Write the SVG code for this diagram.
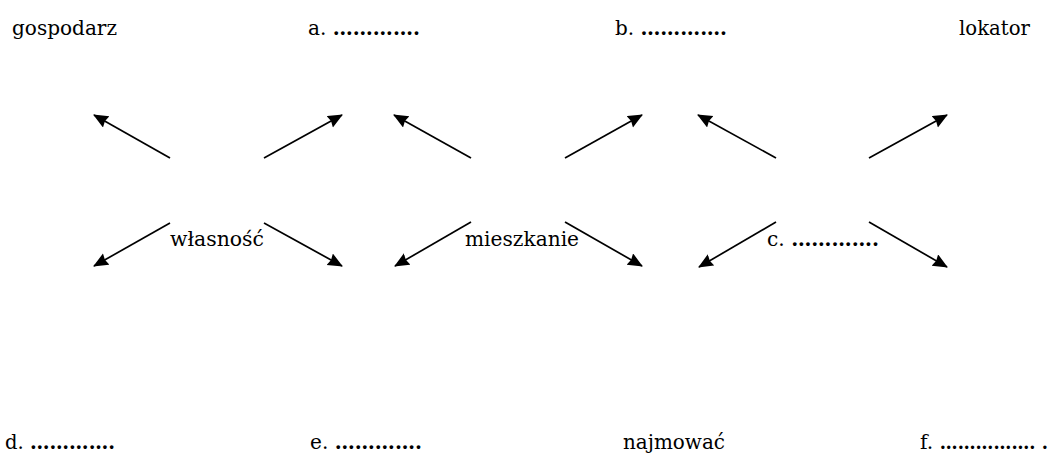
<svg xmlns="http://www.w3.org/2000/svg" width="1057" height="459" viewBox="0 0 1057 459">
<style>
text{font-family:"DejaVu Serif","Liberation Serif",serif;font-size:20.5px;fill:#000}
.d{font-weight:bold}
.c line{stroke:#000;stroke-width:1.7;fill:none;marker-end:url(#ah)}
</style>
<defs>
<marker id="ah" markerUnits="userSpaceOnUse" markerWidth="18" markerHeight="14" refX="14" refY="6.5" orient="auto">
<path d="M0,0 L15,6.5 L0,13 L1.5,6.5 z" fill="#000"/>
</marker>
</defs>
<rect width="1057" height="459" fill="#fff"/>
<g id="n-gospodarz"><text x="12" y="35" textLength="105" lengthAdjust="spacingAndGlyphs">gospodarz</text></g>
<g id="n-a"><text x="308" y="35" textLength="112" lengthAdjust="spacingAndGlyphs">a. <tspan class="d">………….</tspan></text></g>
<g id="n-b"><text x="615" y="35" textLength="112" lengthAdjust="spacingAndGlyphs">b. <tspan class="d">………….</tspan></text></g>
<g id="n-lokator"><text x="959" y="35" textLength="71" lengthAdjust="spacingAndGlyphs">lokator</text></g>
<g id="n-wlasnosc"><text x="170" y="246" textLength="94" lengthAdjust="spacingAndGlyphs">własność</text></g>
<g id="n-mieszkanie"><text x="465" y="246" textLength="114" lengthAdjust="spacingAndGlyphs">mieszkanie</text></g>
<g id="n-c"><text x="767" y="246" textLength="112" lengthAdjust="spacingAndGlyphs">c. <tspan class="d">………….</tspan></text></g>
<g id="n-d"><text x="5" y="449" textLength="110" lengthAdjust="spacingAndGlyphs">d. <tspan class="d">………….</tspan></text></g>
<g id="n-e"><text x="310" y="449" textLength="112" lengthAdjust="spacingAndGlyphs">e. <tspan class="d">………….</tspan></text></g>
<g id="n-najmowac"><text x="623" y="449" textLength="102" lengthAdjust="spacingAndGlyphs">najmować</text></g>
<g id="n-f"><text x="920" y="449" style="font-size:18px" textLength="128" lengthAdjust="spacingAndGlyphs"><tspan style="font-size:20.5px">f. </tspan><tspan class="d">……………. .</tspan></text></g>
<g id="connectors" class="c">
<line x1="170" y1="158" x2="94" y2="115"/>
<line x1="264" y1="158" x2="342" y2="115"/>
<line x1="170" y1="223" x2="94" y2="266"/>
<line x1="264" y1="223" x2="342" y2="266"/>
<line x1="471" y1="158" x2="394" y2="115"/>
<line x1="565" y1="158" x2="642" y2="115"/>
<line x1="471" y1="222" x2="395" y2="266"/>
<line x1="565" y1="222" x2="642" y2="266"/>
<line x1="776" y1="158" x2="698" y2="115"/>
<line x1="869" y1="158" x2="947" y2="115"/>
<line x1="776" y1="222" x2="699" y2="267"/>
<line x1="869" y1="222" x2="947" y2="267"/>
</g>
</svg>
